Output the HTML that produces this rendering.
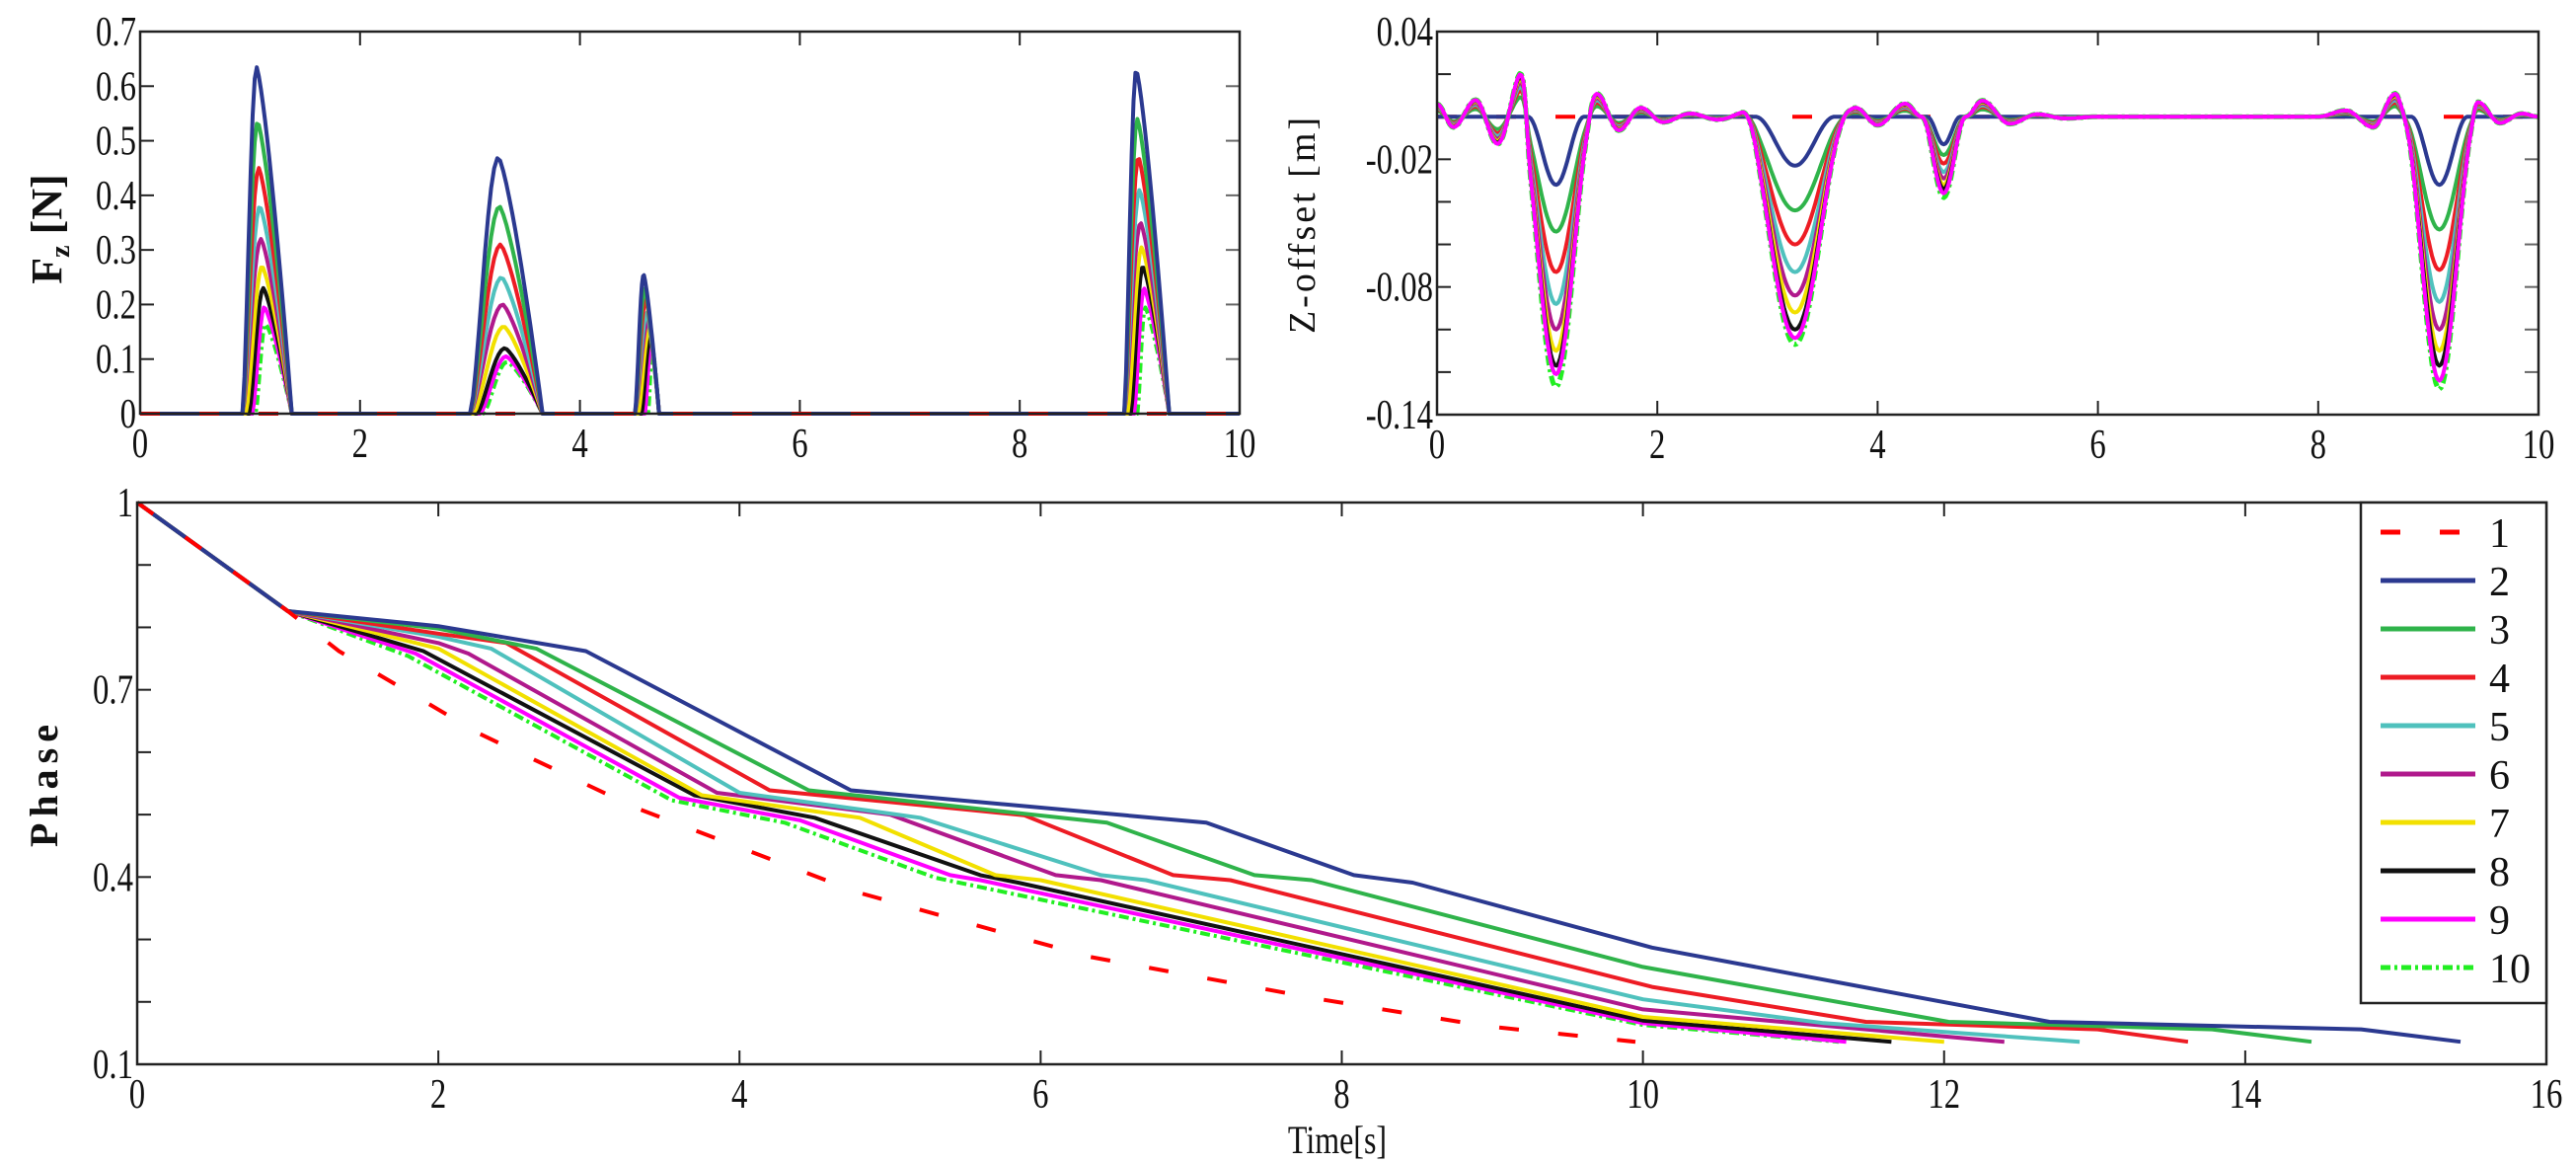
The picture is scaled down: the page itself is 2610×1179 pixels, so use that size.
<!DOCTYPE html>
<html><head><meta charset="utf-8"><style>
html,body{margin:0;padding:0;background:#fff;}
svg{display:block;}
text{font-family:"Liberation Serif",serif;fill:#111;}
</style></head><body>
<svg id="fig" width="2610" height="1179" viewBox="0 0 2610 1179" xmlns="http://www.w3.org/2000/svg">
<g id="g1"></g>
<g id="g2"></g>
<g id="g3"></g>
<text x="0" y="0" transform="translate(62,232) rotate(-90)" text-anchor="middle" font-size="44" font-weight="bold">F<tspan font-size="28" dy="8">z</tspan><tspan dy="-8"> [N]</tspan></text>
<text x="0" y="0" transform="translate(1332,227) rotate(-90)" text-anchor="middle" font-size="38" letter-spacing="3">Z-offset [m]</text>
<text x="0" y="0" transform="translate(58,793) rotate(-90)" text-anchor="middle" font-size="40" font-weight="bold" letter-spacing="6">Phase</text>
<text x="1355" y="1168" text-anchor="middle" font-size="40" transform="translate(1355,0) scale(0.8,1) translate(-1355,0)">Time[s]</text>
</svg>
<script>
// ---------- shared series data ----------
const seriesNames = ['1','2','3','4','5','6','7','8','9','10'];
const seriesColors = ['#ff0000','#2b3990','#2fb34a','#ed1c24','#4fc1bd','#b0198c','#f2e000','#111111','#ff00ff','#22ee22'];

// Fz pulses: centers, windows, peak values for series 2..10 (series 1 stays 0)
const fzPulseStart = [0.93, 3.0, 4.5, 8.95];
const fzPulsePeakT = [1.05, 3.25, 4.57, 9.05];
const fzPulseEnd = [1.38, 3.66, 4.72, 9.36];
const fzPeak1 = [0, 0.635, 0.535, 0.45, 0.38, 0.32, 0.27, 0.23, 0.195, 0.165];
const fzPeak2 = [0, 0.47, 0.38, 0.31, 0.25, 0.2, 0.16, 0.12, 0.105, 0.095];
const fzPeak3 = [0, 0.255, 0.23, 0.21, 0.185, 0.17, 0.155, 0.14, 0.13, 0.12];
const fzPeak4 = [0, 0.63, 0.54, 0.47, 0.41, 0.35, 0.305, 0.27, 0.23, 0.195];
const fzXTicks = [0,2,4,6,8,10];
const fzYTicks = [0,0.1,0.2,0.3,0.4,0.5,0.6,0.7];
const fzYLabels = ['0','0.1','0.2','0.3','0.4','0.5','0.6','0.7'];

// Z-offset: dips and ripple
const zDipCenter = [1.08, 3.25, 4.6, 9.1];
const zDipHalfWidth = [0.34, 0.48, 0.2, 0.34];
const zDepth1 = [0, -0.032, -0.054, -0.073, -0.088, -0.1, -0.11, -0.117, -0.121, -0.127];
const zDepth2 = [0, -0.023, -0.044, -0.06, -0.073, -0.084, -0.092, -0.1, -0.104, -0.107];
const zDepth3 = [0, -0.013, -0.018, -0.022, -0.026, -0.029, -0.032, -0.034, -0.036, -0.038];
const zDepth4 = [0, -0.032, -0.053, -0.072, -0.087, -0.1, -0.11, -0.117, -0.124, -0.128];
const zRippleScale = [0, 0, 0.45, 0.6, 0.7, 0.8, 0.88, 0.94, 0.98, 1];
const zRippleT = [0,0.15,0.35,0.55,0.78,0.85,1.35,1.45,1.65,1.85,2.05,2.3,2.55,2.85,2.95,3.65,3.8,4.0,4.25,4.4,4.8,4.95,5.2,5.45,5.7,6.0,8.0,8.25,8.5,8.7,8.8,9.38,9.45,9.65,9.85,10];
const zRippleV = [0.006,-0.005,0.008,-0.013,0.022,0.0,0.0,0.011,-0.0065,0.0043,-0.0026,0.0015,-0.0014,0.0028,0,0,0.0043,-0.004,0.0063,0,0,0.0077,-0.0034,0.0012,-0.0008,0,0,0.003,-0.005,0.011,0,0,0.007,-0.003,0.0015,0];
const zXTicks = [0,2,4,6,8,10];
const zYTicks = [0.04,0.02,0,-0.02,-0.04,-0.06,-0.08,-0.1,-0.12,-0.14];
const zYLabelVals = [0.04,-0.02,-0.08,-0.14];
const zYLabels = ['0.04','-0.02','-0.08','-0.14'];

// Phase: per-series points (time, phase)
const ph1T = [0,1,1.34,2.27,3.31,4.79,6.33,7.86,8.96,9.95];
const ph1V = [1,0.826,0.762,0.63,0.511,0.375,0.272,0.204,0.161,0.136];
const ph2T = [0,1,2,2.98,4.74,7.1,8.08,8.47,10.06,12.7,14.77,15.43];
const ph2V = [1,0.826,0.802,0.762,0.539,0.487,0.403,0.391,0.287,0.168,0.156,0.136];
const ph3T = [0,1,2,2.65,4.46,6.44,7.42,7.8,10,12.03,13.78,14.44];
const ph3V = [1,0.826,0.798,0.766,0.539,0.487,0.403,0.395,0.256,0.168,0.156,0.136];
const ph4T = [0,1,2,2.45,4.2,5.89,6.88,7.26,10.06,11.48,13.02,13.62];
const ph4V = [1,0.826,0.79,0.775,0.539,0.499,0.403,0.395,0.224,0.168,0.156,0.136];
const ph5T = [0,1,2,2.35,4.0,5.2,6.4,6.7,10,11.2,12.9];
const ph5V = [1,0.826,0.785,0.766,0.535,0.495,0.403,0.395,0.204,0.166,0.136];
const ph6T = [0,1,2,2.2,3.85,5.0,6.1,6.4,10,12.4];
const ph6V = [1,0.826,0.775,0.758,0.535,0.5,0.403,0.395,0.188,0.136];
const ph7T = [0,1,2.0,3.75,4.8,5.7,6.0,10,12];
const ph7V = [1,0.826,0.766,0.531,0.495,0.403,0.395,0.176,0.136];
const ph8T = [0,1,1.9,3.7,4.5,5.6,5.85,10,11.65];
const ph8V = [1,0.826,0.762,0.531,0.495,0.403,0.391,0.17,0.136];
const ph9T = [0,1,1.85,3.6,4.4,5.4,5.6,10,11.35];
const ph9V = [1,0.826,0.758,0.527,0.491,0.403,0.395,0.166,0.136];
const ph10T = [0,1,1.8,3.55,4.3,5.3,10,11.3];
const ph10V = [1,0.826,0.754,0.523,0.487,0.399,0.163,0.136];
const phXTicks = [0,2,4,6,8,10,12,14,16];
const phYTicks = [1,0.9,0.8,0.7,0.6,0.5,0.4,0.3,0.2,0.1];
const phYLabelVals = [1,0.7,0.4,0.1];
const phYLabels = ['1','0.7','0.4','0.1'];

const NS='http://www.w3.org/2000/svg';
function mk(tag, parent, attrs){const e=document.createElementNS(NS,tag);for(const k in attrs)e.setAttribute(k,attrs[k]);parent.appendChild(e);return e;}
function scaler(d0,d1,r0,r1){return v=>r0+(v-d0)/(d1-d0)*(r1-r0);}

function dashFor(i){ if(i===0) return '20 40'; if(i===9) return '10 4 3 4'; return null; }

function drawAxes(g, box, sx, sy, xt, ytAll, yLabVals, yLabs, namePrefix){
  mk('rect', g, {x:box.l,y:box.t,width:box.r-box.l,height:box.b-box.t,fill:'#fff',stroke:'none'});
  xt.forEach(v=>{
    const x=sx(v);
    const t1=mk('line',g,{x1:x,y1:box.b,x2:x,y2:box.b-14,stroke:'#222','stroke-width':2});
    
    
    mk('line',g,{x1:x,y1:box.t,x2:x,y2:box.t+14,stroke:'#222','stroke-width':2});
    const tx=mk('text',g,{x:x,y:box.b+44,'text-anchor':'middle','font-size':42,transform:`translate(${x},0) scale(0.78,1) translate(${-x},0)`});
    tx.textContent=String(v);
    
    
  });
  ytAll.forEach(v=>{
    const y=sy(v);
    const t1=mk('line',g,{x1:box.l,y1:y,x2:box.l+14,y2:y,stroke:'#222','stroke-width':2});
    
    
    mk('line',g,{x1:box.r,y1:y,x2:box.r-14,y2:y,stroke:'#666','stroke-width':2});
  });
  yLabVals.forEach((v,i)=>{
    const y=sy(v);
    const xr=box.l-4;
    const tx=mk('text',g,{x:xr,y:y+14,'text-anchor':'end','font-size':42,transform:`translate(${xr},0) scale(0.78,1) translate(${-xr},0)`});
    tx.textContent=yLabs[i];
    
    
  });
}
function frame(g, box){
  const f=mk('rect',g,{x:box.l,y:box.t,width:box.r-box.l,height:box.b-box.t,fill:'none',stroke:'#222','stroke-width':2.5});
  
  
}
function poly(g, pts, i, w, name){
  const p=mk('polyline',g,{points:pts.map(p=>p[0].toFixed(1)+','+p[1].toFixed(1)).join(' '),fill:'none',stroke:seriesColors[i],'stroke-width':w,'stroke-linejoin':'round'});
  const d=dashFor(i); if(d) p.setAttribute('stroke-dasharray',d);
  
  
  return p;
}

// ---------- Fz chart ----------
(function(){
  const g=document.getElementById('g1');
  const box={l:142,r:1256,t:32,b:419};
  const sx=scaler(0,10,box.l,box.r), sy=scaler(0,0.7,box.b,box.t);
  drawAxes(g,box,sx,sy,fzXTicks,fzYTicks,fzYTicks,fzYLabels,'fz');
  const peaks=[fzPeak1,fzPeak2,fzPeak3,fzPeak4];
  for(let i=9;i>=0;i--){
    const pts=[[sx(0),sy(0)]];
    for(let k=0;k<4;k++){
      const h=peaks[k][i];
      const s=fzPulseStart[k]+ (i>=6?0.03*(i-5):0), p=fzPulsePeakT[k]+0.01*i, e=fzPulseEnd[k];
      pts.push([sx(s),sy(0)]);
      const n=24;
      for(let j=1;j<n;j++){
        const t=s+(e-s)*j/n;
        let v;
        if(t<=p){ const u=(t-s)/(p-s); v=h*Math.pow(Math.sin(u*Math.PI/2),1.5); }
        else { const u=(t-p)/(e-p); v=h*(1-Math.pow(u,1.3)); }
        pts.push([sx(t),sy(v)]);
      }
      pts.push([sx(e),sy(0)]);
    }
    pts.push([sx(10),sy(0)]);
    poly(g,pts,i,4,'fz-series-'+seriesNames[i]);
  }
  frame(g,box);
})();

// ---------- Z-offset chart ----------
(function(){
  const g=document.getElementById('g2');
  const box={l:1456,r:2572,t:32,b:420};
  const sx=scaler(0,10,box.l,box.r), sy=scaler(-0.14,0.04,box.b,box.t);
  drawAxes(g,box,sx,sy,zXTicks,zYTicks,zYLabelVals,zYLabels,'z');
  const depths=[zDepth1,zDepth2,zDepth3,zDepth4];
  function ripple(t){
    for(let j=0;j<zRippleT.length-1;j++){
      if(t>=zRippleT[j]&&t<=zRippleT[j+1]){
        const u=(t-zRippleT[j])/(zRippleT[j+1]-zRippleT[j]);
        const uu=(1-Math.cos(u*Math.PI))/2;
        return zRippleV[j]+(zRippleV[j+1]-zRippleV[j])*uu;
      }
    }
    return 0;
  }
  const order=[0,1,2,3,4,5,6,7,9,8];
  order.forEach(i=>{
    const pts=[];
    for(let j=0;j<=600;j++){
      const t=10*j/600;
      let v=zRippleScale[i]*ripple(t);
      for(let k=0;k<4;k++){
        const hw=zDipHalfWidth[k]*(i===1?0.75:1);
        const d=Math.abs(t-zDipCenter[k]);
        if(d<hw) v+=depths[k][i]*Math.pow(Math.cos(d/hw*Math.PI/2),2);
      }
      pts.push([sx(t),sy(v)]);
    }
    poly(g,pts,i,i===9?5:4,'z-series-'+seriesNames[i]);
  });
  frame(g,box);
})();

// ---------- Phase chart ----------
(function(){
  const g=document.getElementById('g3');
  const box={l:139,r:2580,t:509,b:1078};
  const sx=scaler(0,16,box.l,box.r), sy=scaler(0.1,1,box.b,box.t);
  drawAxes(g,box,sx,sy,phXTicks,phYTicks,phYLabelVals,phYLabels,'phase');
  const Ts=[ph1T,ph2T,ph3T,ph4T,ph5T,ph6T,ph7T,ph8T,ph9T,ph10T];
  const Vs=[ph1V,ph2V,ph3V,ph4V,ph5V,ph6V,ph7V,ph8V,ph9V,ph10V];
  for(let i=9;i>=0;i--){
    const pts=Ts[i].map((t,j)=>[sx(t),sy(Vs[i][j])]);
    poly(g,pts,i,4,'phase-series-'+seriesNames[i]);
  }
  frame(g,box);
  // legend
  const lg=mk('g',g,{});
  
  
  mk('rect',lg,{x:2392,y:509,width:188,height:507,fill:'#fff',stroke:'#222','stroke-width':2.5});
  seriesNames.forEach((nm,i)=>{
    const y=539+49*i;
    const e=mk('g',lg,{});
    
    
    const l=mk('line',e,{x1:2412,y1:y,x2:2508,y2:y,stroke:seriesColors[i],'stroke-width':5});
    const d=dashFor(i); if(d) l.setAttribute('stroke-dasharray',d);
    const t=mk('text',e,{x:2522,y:y+15,'font-size':42});
    t.textContent=nm;
  });
})();
</script>
</body></html>
